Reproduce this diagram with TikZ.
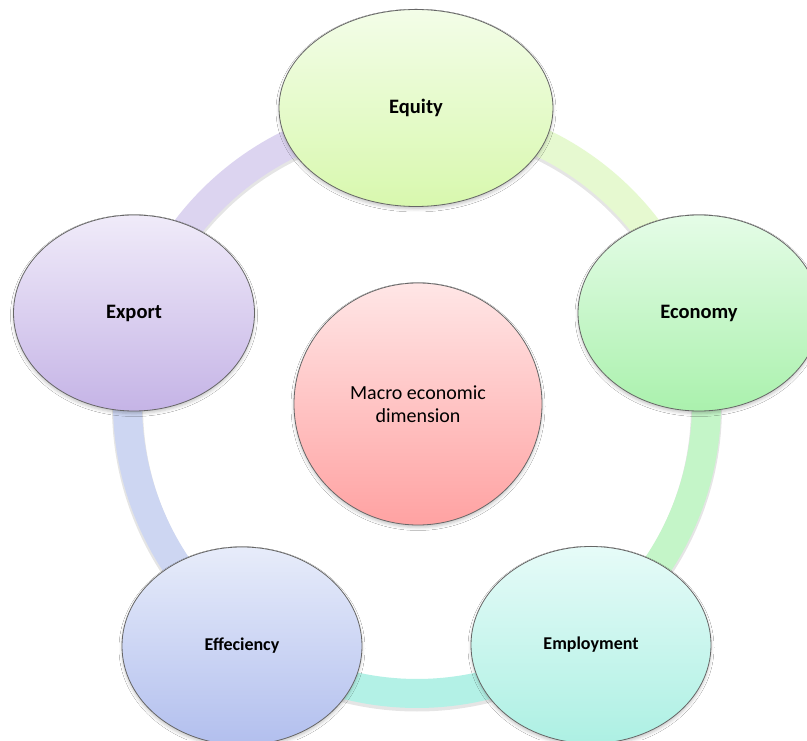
\documentclass[tikz,border=0pt]{standalone}
\usepackage{fontspec}
\setmainfont{Carlito}
\usetikzlibrary{shapes.geometric,shadows.blur}
\definecolor{eqT}{HTML}{F3FDE8}
\definecolor{eqB}{HTML}{D8F8AE}
\definecolor{ecT}{HTML}{E5FCE7}
\definecolor{ecB}{HTML}{AAF1AD}
\definecolor{emT}{HTML}{E6FBF8}
\definecolor{emB}{HTML}{ADF0E3}
\definecolor{efT}{HTML}{E7ECFA}
\definecolor{efB}{HTML}{B2BFEE}
\definecolor{exT}{HTML}{F0EBF9}
\definecolor{exB}{HTML}{C5B4E6}
\definecolor{ctT}{HTML}{FFE6E6}
\definecolor{ctB}{HTML}{FFA2A2}
\definecolor{segA}{HTML}{E6F9D0}
\definecolor{segB}{HTML}{C4F5C8}
\definecolor{segC}{HTML}{B3F1E6}
\definecolor{segD}{HTML}{CDD6F2}
\definecolor{segE}{HTML}{DCD4F0}
\begin{document}
\begin{tikzpicture}[x=1pt,y=1pt,
  bub/.style={ellipse, draw=black!60, line width=0.8pt, inner sep=0pt,
    blur shadow={shadow xshift=0pt, shadow yshift=-2.5pt, shadow blur radius=3pt, shadow opacity=22}},
  bigl/.style={font=\fontsize{20.5}{24}\selectfont\bfseries},
  smalll/.style={font=\fontsize{18}{21}\selectfont\bfseries},
  seg/.style={line width=29pt},
]
\useasboundingbox (0,0) rectangle (807,740);
\fill[white] (0,0) rectangle (807,740);
\coordinate (rc) at (417,336);
% ring shadow
\draw[black, opacity=0.10, line width=31pt] ([yshift=-2.5pt]rc) circle[radius=289.5pt];
% ring segments
\draw[seg, draw=segA] ([shift={(90:289.5pt)}]rc) arc[start angle=90, end angle=17.9, radius=289.5pt];
\draw[seg, draw=segB] ([shift={(17.9:289.5pt)}]rc) arc[start angle=17.9, end angle=-54.2, radius=289.5pt];
\draw[seg, draw=segC] ([shift={(-54.2:289.5pt)}]rc) arc[start angle=-54.2, end angle=-125.9, radius=289.5pt];
\draw[seg, draw=segD] ([shift={(-125.9:289.5pt)}]rc) arc[start angle=-125.9, end angle=-197.9, radius=289.5pt];
\draw[seg, draw=segE] ([shift={(162.1:289.5pt)}]rc) arc[start angle=162.1, end angle=90, radius=289.5pt];
% nodes
\node[bub, bigl, minimum width=274pt, minimum height=197pt, top color=eqT, bottom color=eqB] (equity) at (416,632) {Equity};
\node[bub, bigl, minimum width=242pt, minimum height=196pt, top color=ecT, bottom color=ecB] (economy) at (699,427) {Economy};
\node[bub, smalll, minimum width=240pt, minimum height=197pt, top color=emT, bottom color=emB] (employment) at (591,95) {Employment};
\node[bub, smalll, minimum width=240pt, minimum height=198pt, top color=efT, bottom color=efB] (effeciency) at (242,94) {Effeciency};
\node[bub, bigl, minimum width=241pt, minimum height=196pt, top color=exT, bottom color=exB] (export) at (134,427) {Export};
\node[bub, minimum width=248pt, minimum height=242pt, top color=ctT, bottom color=ctB, align=center, font=\fontsize{20}{23.3}\selectfont] (centre) at (418,336) {Macro economic\\dimension};
\end{tikzpicture}
\end{document}
